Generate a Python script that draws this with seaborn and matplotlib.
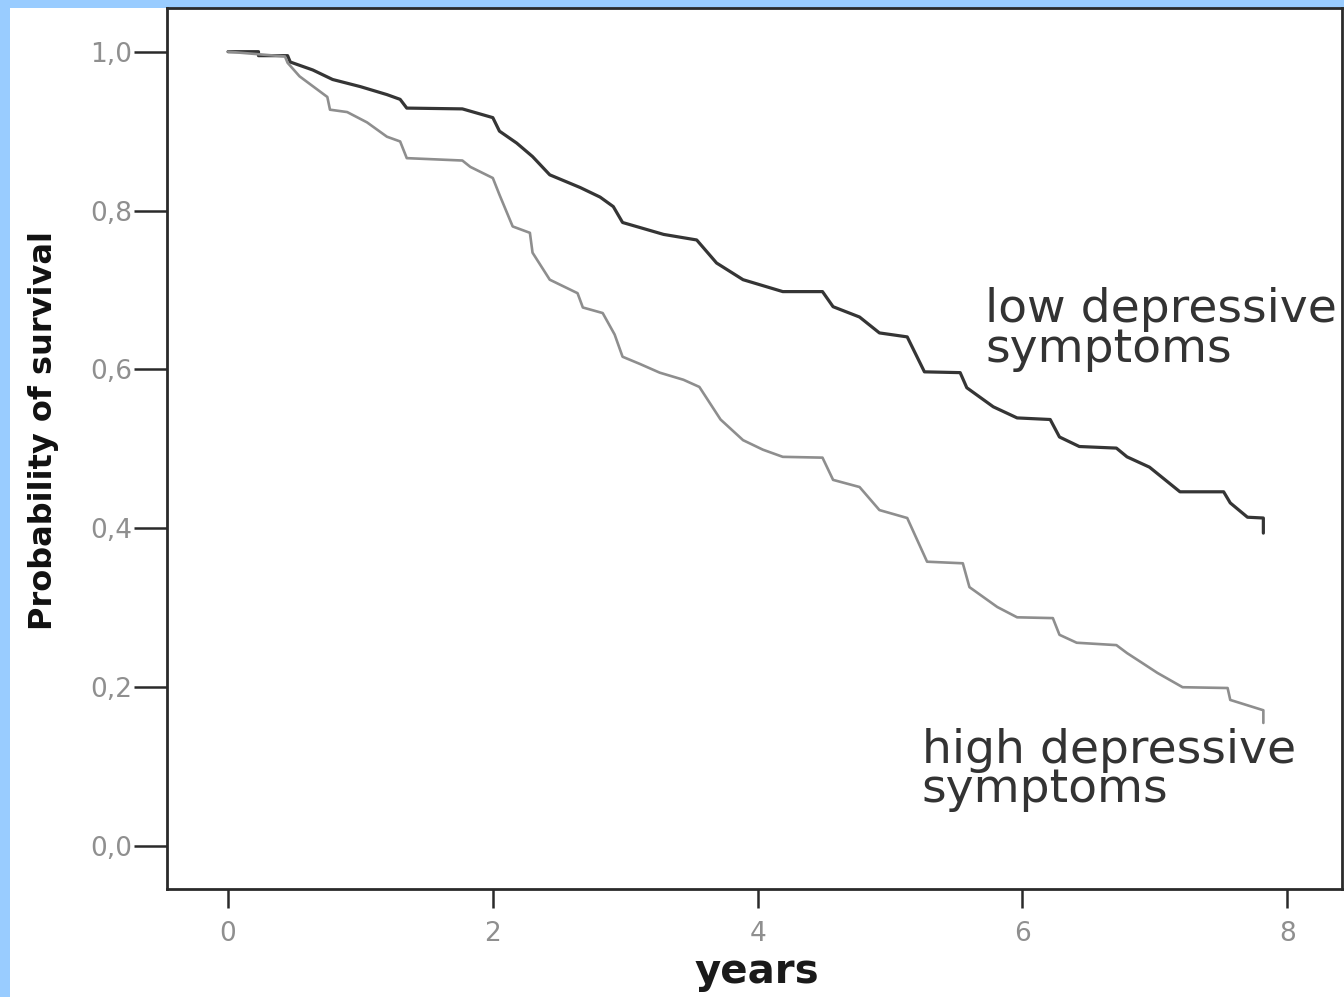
import matplotlib
matplotlib.use("Agg")
import matplotlib.pyplot as plt
from matplotlib.patches import Rectangle
import pandas as pd
import seaborn as sns

# Kaplan-Meier Kurven
low_years = [0, 0.23, 0.23, 0.45, 0.47, 0.64, 0.79, 1.0, 1.2, 1.30, 1.35, 1.77, 2.0, 2.05, 2.18,
             2.30, 2.43, 2.66, 2.81, 2.91, 2.98, 3.29, 3.54, 3.69, 3.89, 4.19, 4.49, 4.57, 4.77,
             4.92, 5.13, 5.26, 5.53, 5.58, 5.78, 5.96, 6.21, 6.28, 6.43, 6.71, 6.79, 6.96, 7.19,
             7.52, 7.57, 7.70, 7.82, 7.82]
low_surv = [1.0, 1.0, 0.995, 0.995, 0.987, 0.977, 0.965, 0.956, 0.946, 0.940, 0.929, 0.928, 0.917,
            0.900, 0.885, 0.868, 0.845, 0.829, 0.817, 0.805, 0.785, 0.770, 0.763, 0.734, 0.713,
            0.698, 0.698, 0.679, 0.666, 0.646, 0.641, 0.597, 0.596, 0.577, 0.553, 0.539, 0.537,
            0.515, 0.503, 0.501, 0.490, 0.477, 0.446, 0.446, 0.432, 0.414, 0.413, 0.394]

high_years = [0, 0.43, 0.45, 0.54, 0.75, 0.77, 0.90, 1.05, 1.20, 1.30, 1.35, 1.77, 1.83, 2.0, 2.05,
              2.15, 2.28, 2.30, 2.43, 2.64, 2.68, 2.83, 2.92, 2.98, 3.11, 3.26, 3.44, 3.56, 3.72,
              3.89, 4.04, 4.19, 4.49, 4.57, 4.77, 4.92, 5.13, 5.28, 5.55, 5.60, 5.81, 5.96, 6.23,
              6.28, 6.41, 6.71, 6.79, 6.91, 7.02, 7.21, 7.55, 7.57, 7.82, 7.82]
high_surv = [1.0, 0.994, 0.986, 0.969, 0.943, 0.927, 0.924, 0.911, 0.893, 0.887, 0.866, 0.863,
             0.855, 0.841, 0.820, 0.780, 0.772, 0.747, 0.713, 0.696, 0.678, 0.671, 0.644, 0.616,
             0.607, 0.596, 0.587, 0.578, 0.537, 0.511, 0.499, 0.490, 0.489, 0.461, 0.452, 0.423,
             0.413, 0.358, 0.356, 0.326, 0.301, 0.288, 0.287, 0.266, 0.256, 0.253, 0.243, 0.230,
             0.218, 0.200, 0.199, 0.184, 0.171, 0.155]

x_ticks = [0, 2, 4, 6, 8]
y_ticks = [0.0, 0.2, 0.4, 0.6, 0.8, 1.0]
y_tick_labels = ["0,0", "0,2", "0,4", "0,6", "0,8", "1,0"]

df = pd.concat([
    pd.DataFrame({"years": low_years, "surv": low_surv, "group": "low"}),
    pd.DataFrame({"years": high_years, "surv": high_surv, "group": "high"}),
], ignore_index=True)

sns.set_theme(style="white")
plt.rcParams["font.family"] = ["DejaVu Sans"]

fig = plt.figure(figsize=(13.44, 9.97), dpi=100, facecolor="#99ccff")
# weisser Hintergrund innerhalb des blauen Rahmens
fig.patches.append(Rectangle((10 / 1344, 0), 1 - 10 / 1344, 989 / 997,
                             transform=fig.transFigure, facecolor="white",
                             edgecolor="none", zorder=-10))
ax = fig.add_axes([167 / 1344, 108 / 997, 1175 / 1344, 881 / 997])
ax.set_facecolor("white")

sns.lineplot(data=df, x="years", y="surv", hue="group", estimator=None, sort=False,
             palette={"low": "#353535", "high": "#8e8e8e"}, legend=False, ax=ax)
for line, lw in zip(ax.get_lines(), [2.3, 1.9]):
    line.set_linewidth(lw)

ax.set_xlim(-0.461, 8.414)
ax.set_ylim(-0.054, 1.055)
ax.set_xticks(x_ticks)
ax.set_yticks(y_ticks)
ax.set_yticklabels(y_tick_labels)

for sp in ax.spines.values():
    sp.set_visible(True)
    sp.set_color("#2a2a2a")
    sp.set_linewidth(2.0)

ax.tick_params(axis="y", direction="out", length=24, width=1.8, color="#2a2a2a",
               pad=1, labelsize=19, labelcolor="#8f8f8f", left=True)
ax.tick_params(axis="x", direction="out", length=14, width=1.8, color="#2a2a2a",
               pad=9, labelsize=19, labelcolor="#8f8f8f", bottom=True)

ax.set_xlabel("years", fontsize=29, fontweight="bold", color="#1a1a1a")
ax.set_ylabel("Probability of survival", fontsize=23, fontweight="bold", color="#111111")
ax.xaxis.set_label_coords(0.502, -0.072)
ax.yaxis.set_label_coords(-0.092, 0.52)

ax.text(5.72, 0.704, "low depressive\nsymptoms", fontsize=34, color="#333333",
        ha="left", va="top", linespacing=0.85, clip_on=False)
ax.text(5.24, 0.149, "high depressive\nsymptoms", fontsize=34, color="#333333",
        ha="left", va="top", linespacing=0.85)

fig.savefig("out.png", dpi=100, facecolor=fig.get_facecolor())
